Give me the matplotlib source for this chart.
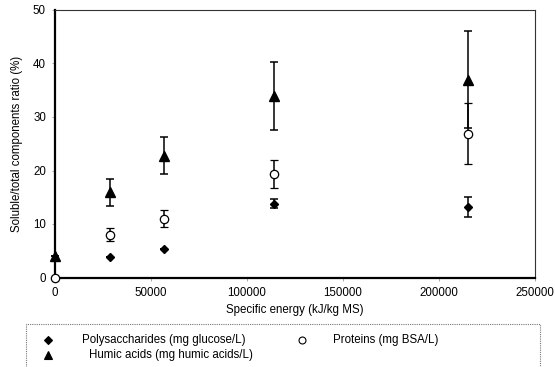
import matplotlib
matplotlib.use("Agg")
import matplotlib.pyplot as plt
from matplotlib.lines import Line2D

plt.rcParams['font.family'] = ['Liberation Sans', 'DejaVu Sans']

energy = [0, 28500, 57000, 114000, 215000]
poly = [0, 3.9, 5.4, 13.8, 13.2]
poly_err = [0, 0, 0, 0.8, 1.9]
prot = [0, 8.0, 11.0, 19.3, 26.9]
prot_err = [0, 1.2, 1.6, 2.6, 5.7]
humic = [4.1, 15.9, 22.8, 33.9, 37.0]
humic_err = [0, 2.5, 3.4, 6.3, 9.0]

xticks = [0, 50000, 100000, 150000, 200000, 250000]
yticks = [0, 10, 20, 30, 40, 50]

labels = ["Polysaccharides (mg glucose/L)", "Proteins (mg BSA/L)",
          "Humic acids (mg humic acids/L)"]

W, H = 555, 367
fig = plt.figure(figsize=(W / 100, H / 100), dpi=100)
ax = fig.add_axes([55 / W, 1 - 277.5 / H, (535 - 55) / W, (277.5 - 10) / H])

fs = 8.3
ekw = dict(ecolor='black', elinewidth=1.1, capsize=3.2, capthick=1.1, linestyle='none', clip_on=False)
c1 = ax.errorbar(energy, humic, yerr=humic_err, marker='^', ms=6.5, mfc='black', mec='black', **ekw)
c3 = ax.errorbar(energy, poly, yerr=poly_err, marker='D', ms=4.5, mfc='black', mec='black', **ekw)
c2 = ax.errorbar(energy, prot, yerr=prot_err, marker='o', ms=6, mfc='white', mec='black', mew=0.9, **ekw)
for c in (c1, c3, c2):
    for a in c.lines[0:1]:
        a.set_clip_on(False)
        a.set_zorder(5)

ax.set_xlim(0, 250000)
ax.set_ylim(0, 50)
ax.set_xticks(xticks)
ax.set_xticklabels([str(t) for t in xticks], fontsize=fs)
ax.set_yticks(yticks)
ax.set_yticklabels([str(t) for t in yticks], fontsize=fs)
ax.tick_params(axis='both', length=2.5, width=0.6, color='#999999', pad=4)
for s in ('left', 'bottom'):
    ax.spines[s].set_linewidth(1.6)
for s in ('top', 'right'):
    ax.spines[s].set_linewidth(0.8)
    ax.spines[s].set_color('#333333')

ax.set_xlabel("Specific energy (kJ/kg MS)", fontsize=fs, labelpad=4)
ax.set_ylabel("Soluble/total components ratio (%)", fontsize=fs, labelpad=7)

# legend box
box = plt.Rectangle((26 / W, -0.01), (540 - 26) / W, 1 - 324 / H + 0.01, transform=fig.transFigure,
                    fill=False, edgecolor='#777777', linestyle=(0, (1, 1)), linewidth=0.8)
fig.add_artist(box)
leg_items = [
    (48, 340, 'D', 'black', 4.5, 82, labels[0]),
    (302, 340, 'o', 'white', 5.0, 333, labels[1]),
    (48, 355, '^', 'black', 6.0, 89, labels[2]),
]
for mx, my, mk, fc, msz, tx, lab in leg_items:
    fig.add_artist(Line2D([mx / W], [1 - my / H], marker=mk, ms=msz, mfc=fc, mec='black', mew=0.8,
                          linestyle='none', transform=fig.transFigure))
    fig.text(tx / W, 1 - my / H, lab, fontsize=fs, va='center', ha='left')

fig.savefig("out.png", dpi=100)
